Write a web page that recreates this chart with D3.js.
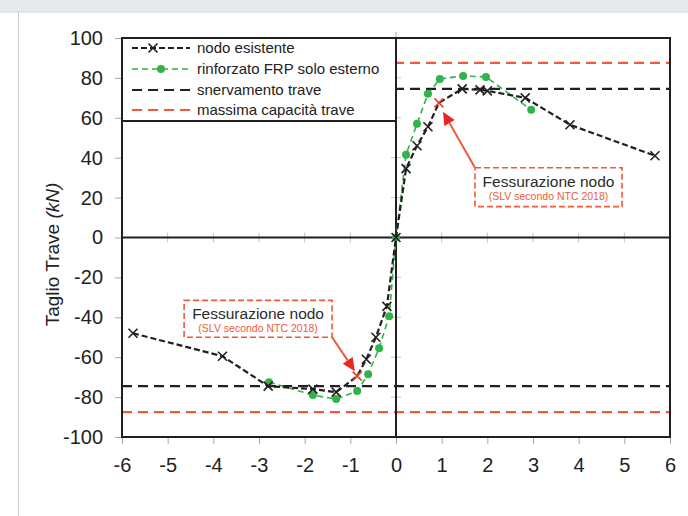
<!DOCTYPE html>
<html>
<head>
<meta charset="utf-8">
<script src="https://cdn.jsdelivr.net/npm/d3@7"></script>
<style>
  body { margin: 0; background: #fff; }
  svg { display: block; font-family: "Liberation Sans", Arial, sans-serif; }
</style>
</head>
<body>
<svg id="chart" width="688" height="516"></svg>
<script>
// series: nodo esistente (black, crosses)
const xNodo = [-5.76, -3.8, -2.8, -1.82, -1.31, -0.85, -0.65, -0.44, -0.2, 0, 0.22, 0.46, 0.7, 0.94, 1.45, 1.84, 2.0, 2.83, 3.81, 5.67];
const yNodo = [-48, -59.5, -74.5, -76, -77.5, -69.5, -61, -50, -34.5, 0, 34.5, 46, 55.5, 67.5, 74.5, 74, 73.5, 70, 56.5, 41];
// points marked as "fessurazione nodo"
const crackIdx = [5, 13];

// series: rinforzato FRP solo esterno (green, dots)
const xFrp = [-2.78, -1.82, -1.31, -0.85, -0.61, -0.37, -0.15, 0, 0.22, 0.46, 0.7, 0.96, 1.47, 1.97, 2.96];
const yFrp = [-72.5, -79, -81, -77, -68.5, -55.5, -39.5, 0, 41.5, 57, 72, 79.5, 81, 80.5, 64];

// reference levels
const snervamento = 74.5;
const massimaCap = 87.5;

const xTicks = [-6, -5, -4, -3, -2, -1, 0, 1, 2, 3, 4, 5, 6];
const yTicks = [-100, -80, -60, -40, -20, 0, 20, 40, 60, 80, 100];

const legendLabels = ["nodo esistente", "rinforzato FRP solo esterno", "snervamento trave", "massima capacità trave"];

const BLACK = "#231f20", GREEN = "#2fb34a", RED = "#ee5a3a", TICKGRAY = "#a8a8a8";

const svg = d3.select("#chart");

// page chrome
svg.append("rect").attr("x", 0).attr("y", 0).attr("width", 688).attr("height", 12).attr("fill", "#e4eaee");
svg.append("line").attr("x1", 0).attr("x2", 688).attr("y1", 12).attr("y2", 12).attr("stroke", "#cfd5d9");
svg.append("line").attr("x1", 18.5).attr("x2", 18.5).attr("y1", 12).attr("y2", 516).attr("stroke", "#c9cdd1");

const x = d3.scaleLinear().domain([-6, 6]).range([122, 670]);
const y = d3.scaleLinear().domain([-100, 100]).range([437, 38]);

// axes
svg.append("g")
    .attr("transform", `translate(0,${y(-100)})`)
    .call(d3.axisBottom(x).tickValues(xTicks).tickSize(7).tickPadding(14).tickFormat(d3.format("d")))
    .call(g => g.select(".domain").remove())
    .call(g => g.selectAll(".tick line").attr("stroke", TICKGRAY))
    .call(g => g.selectAll(".tick text").attr("font-size", 20).attr("fill", "#222")
        .text(d => d < 0 ? "-" + Math.abs(d) : d));

svg.append("g")
    .attr("transform", `translate(${x(-6)},0)`)
    .call(d3.axisLeft(y).tickValues(yTicks).tickSize(7).tickPadding(12))
    .call(g => g.select(".domain").remove())
    .call(g => g.selectAll(".tick line").attr("stroke", TICKGRAY))
    .call(g => g.selectAll(".tick text").attr("font-size", 20).attr("fill", "#222")
        .text(d => d < 0 ? "-" + Math.abs(d) : d));

// small cross ticks on the zero axes
svg.append("g").selectAll("line")
  .data(yTicks.filter(d => d !== 0 && Math.abs(d) !== 100))
  .join("line")
    .attr("x1", x(0) - 5).attr("x2", x(0) + 5)
    .attr("y1", d => y(d)).attr("y2", d => y(d))
    .attr("stroke", "#c4c4c4");
svg.append("g").selectAll("line")
  .data(xTicks.filter(d => d !== 0 && Math.abs(d) !== 6))
  .join("line")
    .attr("x1", d => x(d)).attr("x2", d => x(d))
    .attr("y1", y(0) - 5).attr("y2", y(0) + 5)
    .attr("stroke", "#c4c4c4");
svg.append("line").attr("x1", x(0)).attr("x2", x(0)).attr("y1", y(100) - 6).attr("y2", y(100))
    .attr("stroke", TICKGRAY);

// y label
svg.append("text")
    .attr("transform", `translate(59,${y(0) + 17}) rotate(-90)`)
    .attr("text-anchor", "middle")
    .attr("font-size", 19)
    .attr("fill", "#222")
    .call(t => {
      t.append("tspan").text("Taglio Trave ");
      t.append("tspan").attr("font-style", "italic").text("(kN)");
    });

// reference lines
const refs = [
  {v: snervamento, color: BLACK, dash: "10,6"},
  {v: -snervamento, color: BLACK, dash: "10,6"},
  {v: massimaCap, color: RED, dash: "10,6"},
  {v: -massimaCap, color: RED, dash: "10,6"}
];
svg.append("g").selectAll("line")
  .data(refs)
  .join("line")
    .attr("x1", x(-6)).attr("x2", x(6))
    .attr("y1", d => y(d.v)).attr("y2", d => y(d.v))
    .attr("stroke", d => d.color)
    .attr("stroke-width", 2.2)
    .attr("stroke-dasharray", d => d.dash);

// zero axes
svg.append("line").attr("x1", x(-6)).attr("x2", x(6)).attr("y1", y(0)).attr("y2", y(0))
    .attr("stroke", BLACK).attr("stroke-width", 2);
svg.append("line").attr("x1", x(0)).attr("x2", x(0)).attr("y1", y(-100)).attr("y2", y(100))
    .attr("stroke", BLACK).attr("stroke-width", 2);

// series lines
const line = d3.line().x(d => x(d[0])).y(d => y(d[1]));
const frpPts = d3.zip(xFrp, yFrp);
const nodoPts = d3.zip(xNodo, yNodo);

svg.append("path")
    .attr("d", line(frpPts))
    .attr("fill", "none")
    .attr("stroke", GREEN)
    .attr("stroke-width", 1.6)
    .attr("stroke-dasharray", "6,4");
svg.append("g").selectAll("circle")
  .data(frpPts)
  .join("circle")
    .attr("cx", d => x(d[0])).attr("cy", d => y(d[1]))
    .attr("r", 4)
    .attr("fill", GREEN);

svg.append("path")
    .attr("d", line(nodoPts))
    .attr("fill", "none")
    .attr("stroke", BLACK)
    .attr("stroke-width", 2.2)
    .attr("stroke-dasharray", "6,3");

const cross = (cx, cy, s) => `M${cx - s},${cy - s}L${cx + s},${cy + s}M${cx - s},${cy + s}L${cx + s},${cy - s}`;
svg.append("g").selectAll("path")
  .data(nodoPts)
  .join("path")
    .attr("d", d => cross(x(d[0]), y(d[1]), 4.5))
    .attr("stroke", (d, i) => crackIdx.includes(i) ? "#e8402e" : BLACK)
    .attr("stroke-width", 1.6)
    .attr("fill", "none");

// annotations (positions in data units)
const notes = [
  {bx0: 1.73, bx1: 4.95, by0: 35, by1: 15.5, from: [1.73, 35], to: [1.03, 63]},
  {bx0: -4.64, bx1: -1.40, by0: -31.5, by1: -50, from: [-1.40, -50], to: [-0.9, -67]}
];
const ann = svg.append("g");
notes.forEach(n => {
  const x0 = x(n.bx0), x1 = x(n.bx1), y0 = y(n.by0), y1 = y(n.by1);
  ann.append("rect")
      .attr("x", x0).attr("y", y0).attr("width", x1 - x0).attr("height", y1 - y0)
      .attr("fill", "#fff")
      .attr("stroke", RED).attr("stroke-width", 1.6).attr("stroke-dasharray", "6,3");
  const fx = x(n.from[0]), fy = y(n.from[1]), tx = x(n.to[0]), ty = y(n.to[1]);
  const ang = Math.atan2(ty - fy, tx - fx);
  const hl = 13, hw = 6;
  const bxp = tx - hl * Math.cos(ang), byp = ty - hl * Math.sin(ang);
  ann.append("line")
      .attr("x1", fx).attr("y1", fy).attr("x2", bxp).attr("y2", byp)
      .attr("stroke", RED).attr("stroke-width", 2);
  ann.append("path")
      .attr("d", `M${tx},${ty}L${bxp + hw * Math.sin(ang)},${byp - hw * Math.cos(ang)}L${bxp - hw * Math.sin(ang)},${byp + hw * Math.cos(ang)}Z`)
      .attr("fill", "#e8281e");
  const cx = (x0 + x1) / 2;
  ann.append("text")
      .attr("x", cx).attr("y", y0 + 19)
      .attr("text-anchor", "middle")
      .attr("font-size", 15.5)
      .attr("fill", "#2b2b2b")
      .text("Fessurazione nodo");
  ann.append("text")
      .attr("x", cx).attr("y", y0 + 32)
      .attr("text-anchor", "middle")
      .attr("font-size", 10.5)
      .attr("fill", RED)
      .text("(SLV secondo NTC 2018)");
});

// legend
const lg = svg.append("g");
lg.append("rect")
    .attr("x", x(-6)).attr("y", y(100))
    .attr("width", x(0) - x(-6)).attr("height", 83)
    .attr("fill", "#fff").attr("stroke", BLACK).attr("stroke-width", 2);
const legendY = [48, 69, 90, 110];
const lx0 = 132, lx1 = 190;
// nodo esistente
lg.append("line").attr("x1", lx0).attr("x2", lx1).attr("y1", legendY[0]).attr("y2", legendY[0])
    .attr("stroke", BLACK).attr("stroke-width", 2.2).attr("stroke-dasharray", "6,3");
lg.append("path").attr("d", cross((lx0 + lx1) / 2 - 8, legendY[0], 4.5))
    .attr("stroke", BLACK).attr("stroke-width", 1.6);
// rinforzato
lg.append("line").attr("x1", lx0).attr("x2", lx1).attr("y1", legendY[1]).attr("y2", legendY[1])
    .attr("stroke", GREEN).attr("stroke-width", 1.6).attr("stroke-dasharray", "6,4");
lg.append("circle").attr("cx", (lx0 + lx1) / 2).attr("cy", legendY[1]).attr("r", 4).attr("fill", GREEN);
// snervamento / massima
lg.append("line").attr("x1", lx0).attr("x2", lx1).attr("y1", legendY[2]).attr("y2", legendY[2])
    .attr("stroke", BLACK).attr("stroke-width", 2.2).attr("stroke-dasharray", "10,6");
lg.append("line").attr("x1", lx0).attr("x2", lx1).attr("y1", legendY[3]).attr("y2", legendY[3])
    .attr("stroke", RED).attr("stroke-width", 2.2).attr("stroke-dasharray", "10,6");
lg.selectAll("text")
  .data(legendLabels)
  .join("text")
    .attr("x", 197)
    .attr("y", (d, i) => legendY[i] + 5)
    .attr("font-size", 15)
    .attr("fill", "#222")
    .text(d => d);

// plot frame
svg.append("rect")
    .attr("x", x(-6)).attr("y", y(100))
    .attr("width", x(6) - x(-6)).attr("height", y(-100) - y(100))
    .attr("fill", "none").attr("stroke", BLACK).attr("stroke-width", 2);
</script>
</body>
</html>
